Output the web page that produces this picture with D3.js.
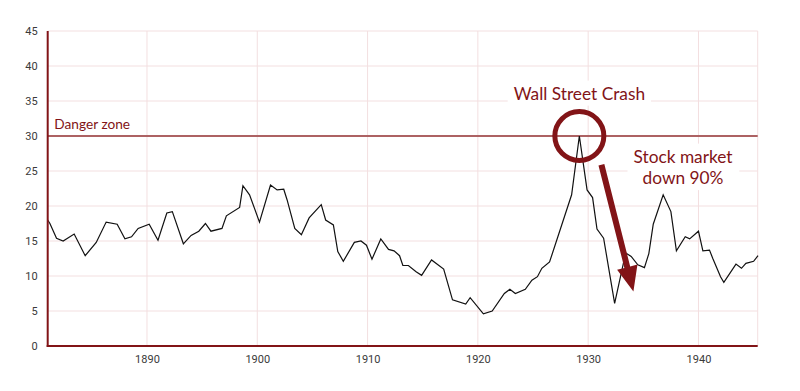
<!DOCTYPE html>
<html>
<head>
<meta charset="utf-8">
<script src="https://cdn.jsdelivr.net/npm/d3@7"></script>
<style>
  html, body { margin: 0; padding: 0; background: #fff; }
  svg { display: block; }
</style>
</head>
<body>
<svg id="chart" width="800" height="391"></svg>
<script>
// ---- data ----
const years = [1881.0, 1881.2, 1881.8, 1882.4, 1883.4, 1884.4, 1885.4, 1886.3, 1887.3, 1888.0,
  1888.6, 1889.2, 1890.2, 1891.0, 1891.8, 1892.3, 1893.3, 1894.0, 1894.7, 1895.3,
  1895.8, 1896.8, 1897.2, 1898.4, 1898.7, 1899.3, 1900.2, 1901.2, 1901.8, 1902.4,
  1902.7, 1903.4, 1904.0, 1904.7, 1905.8, 1906.2, 1906.9, 1907.3, 1907.8, 1908.8,
  1909.4, 1909.9, 1910.4, 1911.2, 1911.9, 1912.4, 1912.9, 1913.2, 1913.7, 1914.4,
  1914.9, 1915.8, 1916.9, 1917.7, 1918.9, 1919.3, 1920.5, 1921.3, 1922.4, 1922.9,
  1923.4, 1924.3, 1924.9, 1925.4, 1925.8, 1926.5, 1928.5, 1929.2, 1929.9, 1930.4,
  1930.8, 1931.4, 1932.4, 1933.4, 1933.9, 1934.5, 1935.1, 1935.5, 1935.9, 1936.8,
  1937.5, 1938.0, 1938.8, 1939.2, 1940.0, 1940.4, 1941.0, 1941.3, 1942.0, 1942.3,
  1943.4, 1943.9, 1944.3, 1945.0, 1945.4];
const values = [18.0, 17.5, 15.4, 15.0, 16.0, 12.9, 14.8, 17.7, 17.4, 15.3,
  15.6, 16.8, 17.4, 15.1, 19.0, 19.2, 14.6, 15.8, 16.4, 17.5,
  16.4, 16.8, 18.6, 19.8, 22.9, 21.6, 17.7, 23.0, 22.3, 22.4,
  20.9, 16.8, 15.9, 18.3, 20.2, 18.0, 17.3, 13.5, 12.1, 14.8,
  15.0, 14.4, 12.4, 15.3, 13.8, 13.6, 12.9, 11.5, 11.5, 10.6,
  10.1, 12.3, 11.0, 6.6, 6.0, 6.9, 4.6, 5.0, 7.5, 8.1,
  7.5, 8.1, 9.4, 9.9, 11.1, 12.0, 21.6, 30.0, 22.3, 21.2,
  16.7, 15.4, 6.1, 13.3, 12.8, 11.6, 11.2, 13.2, 17.4, 21.6,
  19.2, 13.6, 15.6, 15.3, 16.4, 13.6, 13.7, 12.5, 9.9, 9.1,
  11.7, 11.1, 11.8, 12.1, 12.9];
const xTicks = [1890, 1900, 1910, 1920, 1930, 1940];
const yTicks = [0, 5, 10, 15, 20, 25, 30, 35, 40, 45];
const xDomain = [1881, 1945.37];
const yDomain = [0, 45];
const dangerLevel = 30;
const dangerLabel = "Danger zone";
const crashYear = 1929.2;
const crashLabel = "Wall Street Crash";
const dropLabel = ["Stock market", "down 90%"];
const arrowFrom = [1931.2, 25.9];
const arrowTo = [1934.1, 7.8];

// ---- layout ----
const W = 800, H = 391;
const m = { left: 47.7, right: 800 - 757.7, top: 31, bottom: 391 - 346 };
const RED = "#821417";
const GRID = "#f3dfe0";

const svg = d3.select("#chart");
const x = d3.scaleLinear().domain(xDomain).range([m.left, W - m.right]);
const y = d3.scaleLinear().domain(yDomain).range([H - m.bottom, m.top]);

// grid
const g = svg.append("g");
g.selectAll("line.h").data(yTicks.filter(d => d > 0)).join("line")
  .attr("x1", x.range()[0]).attr("x2", x.range()[1])
  .attr("y1", d => y(d)).attr("y2", d => y(d))
  .attr("stroke", GRID).attr("stroke-width", 1);
g.selectAll("line.v").data(xTicks.concat([xDomain[1]])).join("line")
  .attr("x1", d => x(d)).attr("x2", d => x(d))
  .attr("y1", y.range()[0]).attr("y2", y.range()[1])
  .attr("stroke", GRID).attr("stroke-width", 1);

// axes
const yAxis = d3.axisLeft(y).tickValues(yTicks).tickSize(0).tickPadding(10).tickFormat(d3.format("d"));
const xAxis = d3.axisBottom(x).tickValues(xTicks).tickSize(0).tickPadding(9).tickFormat(d3.format("d"));
const ya = svg.append("g").attr("transform", `translate(${m.left},0)`).call(yAxis);
const xa = svg.append("g").attr("transform", `translate(0,${H - m.bottom})`).call(xAxis);
[ya, xa].forEach(a => {
  a.select(".domain").remove();
  a.selectAll("text").attr("fill", "#3a3a3a").style("font-family", "Roboto, 'Noto Sans', sans-serif").style("font-size", "11px");
});

// danger line
svg.append("line")
  .attr("x1", x.range()[0]).attr("x2", x.range()[1])
  .attr("y1", y(dangerLevel)).attr("y2", y(dangerLevel))
  .attr("stroke", "#ad6263").attr("stroke-width", 2);

// data line
const line = d3.line().x((d, i) => x(years[i])).y((d) => y(d));
svg.append("path").datum(values)
  .attr("d", line)
  .attr("fill", "none").attr("stroke", "#111").attr("stroke-width", 1.2)
  .attr("stroke-linejoin", "miter");

// axis lines
svg.append("line").attr("x1", m.left).attr("x2", m.left).attr("y1", y.range()[1]).attr("y2", y.range()[0] + 1)
  .attr("stroke", RED).attr("stroke-width", 2);
svg.append("line").attr("x1", m.left - 1).attr("x2", x.range()[1]).attr("y1", y.range()[0]).attr("y2", y.range()[0])
  .attr("stroke", RED).attr("stroke-width", 2);

const FONT = "Lato, 'Open Sans', sans-serif";

// danger label
svg.append("text").attr("x", x(1881.6)).attr("y", y(31.0))
  .attr("fill", RED).style("font-family", FONT).style("font-size", "13.7px")
  .text(dangerLabel);

// helper: text with white box
function boxedText(lines, cx, by, size, lh) {
  const grp = svg.append("g");
  const rect = grp.append("rect").attr("fill", "#fff");
  const t = grp.append("text").attr("text-anchor", "middle")
    .attr("fill", RED).style("font-family", FONT).style("font-size", size + "px");
  lines.forEach((s, i) => t.append("tspan").attr("x", cx).attr("y", by + i * lh).text(s));
  const bb = t.node().getBBox();
  rect.attr("x", bb.x - 6).attr("y", bb.y - 2).attr("width", bb.width + 12).attr("height", bb.height + 4);
  return grp;
}

boxedText([crashLabel], x(crashYear), y(35.2), 17.3, 0);
boxedText(dropLabel, x(1938.6), y(26.2), 17.3, 21.5);

// circle
svg.append("circle").attr("cx", x(crashYear)).attr("cy", y(dangerLevel)).attr("r", 24.5)
  .attr("fill", "none").attr("stroke", RED).attr("stroke-width", 5);

// arrow
const x0 = x(arrowFrom[0]), y0 = y(arrowFrom[1]), x1 = x(arrowTo[0]), y1 = y(arrowTo[1]);
const dx = x1 - x0, dy = y1 - y0, len = Math.hypot(dx, dy);
const ux = dx / len, uy = dy / len, px = -uy, py = ux;
const headLen = 25, headW = 10.5, shaftW = 3;
const bx = x1 - ux * headLen, by2 = y1 - uy * headLen;
const pts = [
  [x0 + px * shaftW, y0 + py * shaftW],
  [bx + px * shaftW, by2 + py * shaftW],
  [bx + px * headW, by2 + py * headW],
  [x1, y1],
  [bx - px * headW, by2 - py * headW],
  [bx - px * shaftW, by2 - py * shaftW],
  [x0 - px * shaftW, y0 - py * shaftW]
];
svg.append("path").attr("d", "M" + pts.map(p => p.join(",")).join("L") + "Z").attr("fill", RED);
</script>
</body>
</html>
